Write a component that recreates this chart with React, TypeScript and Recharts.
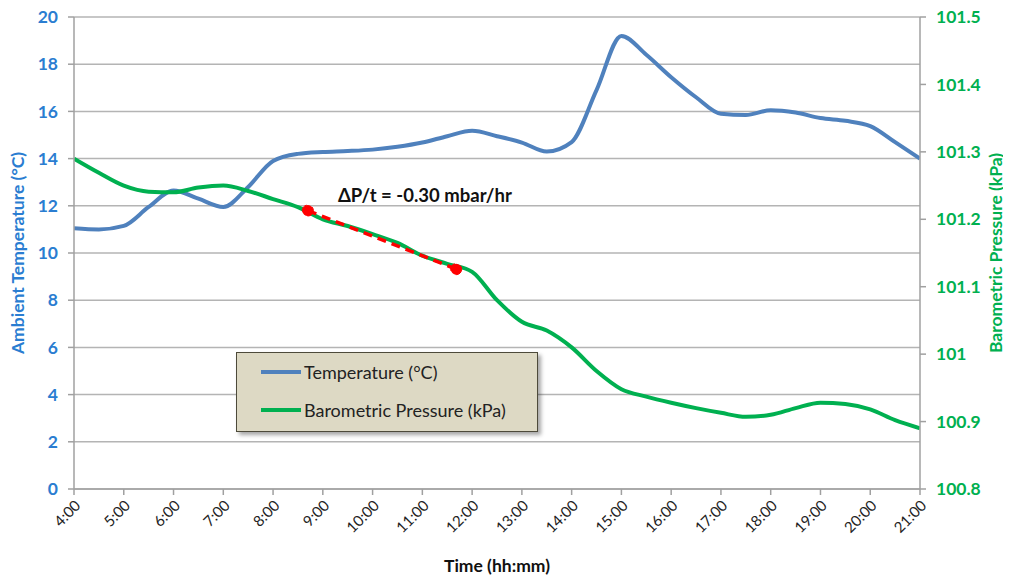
import React from 'react';
import {
  LineChart,
  Line,
  XAxis,
  YAxis,
  CartesianGrid,
  ReferenceDot,
} from 'recharts';

// time of day in hours
const times = [
  4, 4.5, 5, 5.5, 6, 6.5, 7, 7.5, 8, 8.5, 9, 9.5, 10, 10.5, 11, 11.5, 12, 12.5,
  13, 13.5, 14, 14.5, 15, 15.5, 16, 16.5, 17, 17.5, 18, 18.5, 19, 19.5, 20, 20.5, 21,
];

const temperature = [
  11.05, 11.0, 11.15, 11.95, 12.65, 12.3, 11.95, 12.8, 13.9, 14.2, 14.28, 14.32, 14.38,
  14.5, 14.68, 14.95, 15.18, 14.95, 14.68, 14.3, 14.7, 16.9, 19.2, 18.4, 17.45, 16.6,
  15.9, 15.85, 16.05, 15.95, 15.72, 15.6, 15.38, 14.7, 14.0,
];

const pressure = [
  101.29, 101.269, 101.25, 101.241, 101.24, 101.247, 101.25, 101.242, 101.23, 101.218,
  101.2, 101.19, 101.178, 101.165, 101.146, 101.134, 101.122, 101.08, 101.048, 101.035,
  101.01, 100.975, 100.948, 100.937, 100.928, 100.92, 100.913, 100.907, 100.91, 100.92,
  100.928, 100.926, 100.918, 100.902, 100.89,
];

// pressure drop trend between two picked points
const trendTimes = [8.7, 11.68];
const trendPressure = [101.213, 101.126];

const hourTicks = [4, 5, 6, 7, 8, 9, 10, 11, 12, 13, 14, 15, 16, 17, 18, 19, 20, 21];
const tempTicks = [0, 2, 4, 6, 8, 10, 12, 14, 16, 18, 20];
const pressTicks = [100.8, 100.9, 101, 101.1, 101.2, 101.3, 101.4, 101.5];

const annotation = 'ΔP/t = -0.30 mbar/hr';

const data = times.map((t, i) => ({ t, temp: temperature[i], press: pressure[i] }));
const trend = trendTimes.map((t, i) => ({ t, trend: trendPressure[i] }));

const FONT = 'Lato, "Open Sans", sans-serif';
const BLUE_TXT = '#2a7dd1';
const GREEN = '#00b050';
const TEMP_LINE = '#4f81bd';
const GRID = '#b4b4b4';

const LegendBox = () => (
  <div
    style={{
      position: 'absolute',
      left: 236,
      top: 352,
      width: 300,
      height: 78,
      background: '#ddd9c4',
      border: '1.5px solid #4d4a3a',
      boxShadow: '3px 3px 4px rgba(0,0,0,0.35)',
      fontFamily: FONT,
      fontSize: 18,
      color: '#222',
    }}
  >
    {[
      { name: 'Temperature (°C)', color: TEMP_LINE },
      { name: 'Barometric Pressure (kPa)', color: GREEN },
    ].map((it, i) => (
      <div
        key={it.name}
        style={{ position: 'absolute', left: 24, top: 8 + i * 38, display: 'flex', alignItems: 'center' }}
      >
        <span style={{ display: 'inline-block', width: 40, height: 4, background: it.color, marginRight: 3 }} />
        <span>{it.name}</span>
      </div>
    ))}
  </div>
);

export default function App() {
  return (
    <div style={{ position: 'relative', margin: -8, width: 1011, height: 584, background: '#fff' }}>
      <LineChart
        width={1011}
        height={584}
        data={data}
        margin={{ top: 17, left: 14, right: 31, bottom: 35 }}
      >
        <CartesianGrid yAxisId="left" vertical={false} stroke={GRID} strokeWidth={1.5} />
        <XAxis
          dataKey="t"
          type="number"
          domain={[4, 21]}
          ticks={hourTicks}
          allowDataOverflow
          height={60}
          interval={0}
          tickFormatter={(h: number) => `${h}:00`}
          tick={{ angle: -45, textAnchor: 'end', fill: '#222', fontSize: 15, fontFamily: FONT, dy: 2 }}
          stroke="#a0a0a0"
          strokeWidth={1.5}
          tickSize={6}
          label={{
            content: () => (
              <text x={497} y={568} textAnchor="middle" dominantBaseline="middle" fontFamily={FONT} fontWeight="bold" fontSize={17.5} fill="#111">
                Time (hh:mm)
              </text>
            ),
          }}
        />
        <YAxis
          yAxisId="left"
          domain={[0, 20]}
          ticks={tempTicks}
          width={60}
          interval={0}
          tick={{ fill: BLUE_TXT, fontSize: 17.5, fontWeight: 'bold', fontFamily: FONT }}
          stroke="#a0a0a0"
          strokeWidth={1.5}
          tickSize={6}
          tickMargin={10}
          label={{
            content: () => (
              <text
                x={20}
                y={253}
                transform="rotate(-90 20 253)"
                textAnchor="middle"
                dominantBaseline="middle"
                fontFamily={FONT}
                fontWeight="bold"
                fontSize={17.5}
                fill={BLUE_TXT}
              >
                Ambient Temperature (°C)
              </text>
            ),
          }}
        />
        <YAxis
          yAxisId="right"
          orientation="right"
          domain={[100.8, 101.5]}
          ticks={pressTicks}
          width={60}
          interval={0}
          allowDataOverflow
          tickFormatter={(v: number) => String(Math.round(v * 10) / 10)}
          tick={{ fill: GREEN, fontSize: 17.5, fontWeight: 'bold', fontFamily: FONT }}
          stroke="#a0a0a0"
          strokeWidth={1.5}
          tickSize={6}
          tickMargin={10}
          label={{
            content: () => (
              <text
                x={998}
                y={253}
                transform="rotate(-90 998 253)"
                textAnchor="middle"
                dominantBaseline="middle"
                fontFamily={FONT}
                fontWeight="bold"
                fontSize={17.5}
                fill={GREEN}
              >
                Barometric Pressure (kPa)
              </text>
            ),
          }}
        />
        <Line
          yAxisId="left"
          dataKey="temp"
          type="monotone"
          stroke={TEMP_LINE}
          strokeWidth={4}
          dot={false}
          isAnimationActive={false}
        />
        <Line
          yAxisId="right"
          dataKey="press"
          type="monotone"
          stroke={GREEN}
          strokeWidth={4}
          dot={false}
          isAnimationActive={false}
        />
        <Line
          yAxisId="right"
          data={trend}
          dataKey="trend"
          type="linear"
          stroke="#ff0000"
          strokeWidth={3.5}
          strokeDasharray="9 6"
          dot={{ r: 5.5, fill: '#ff0000', stroke: '#ff0000', strokeWidth: 1 }}
          isAnimationActive={false}
        />
        <ReferenceDot
          yAxisId="left"
          x={11.05}
          y={12.45}
          r={0}
          stroke="none"
          fill="none"
          label={{
            value: annotation,
            position: 'center',
            fill: '#111',
            fontSize: 18.5,
            fontWeight: 'bold',
            fontFamily: FONT,
          }}
        />
      </LineChart>
      <LegendBox />
    </div>
  );
}
